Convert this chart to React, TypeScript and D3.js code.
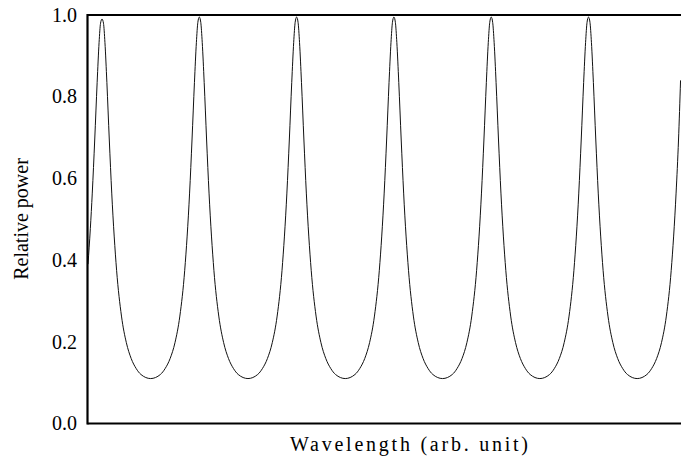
import React from "react";
import * as d3 from "d3";

const wavelength = [
  0.000, 0.024, 0.044, 0.069, 0.094, 0.114, 0.129, 0.144, 0.159, 0.174, 0.194, 0.219, 0.244, 0.294, 0.344, 0.394, 0.444, 0.494, 0.544, 0.644,
  0.744, 0.794, 0.844, 0.894, 0.944, 0.994, 1.044, 1.069, 1.094, 1.114, 1.129, 1.144, 1.159, 1.174, 1.194, 1.219, 1.244, 1.294, 1.344, 1.394, 1.444, 1.494, 1.544, 1.644,
  1.744, 1.794, 1.844, 1.894, 1.944, 1.994, 2.044, 2.069, 2.094, 2.114, 2.129, 2.144, 2.159, 2.174, 2.194, 2.219, 2.244, 2.294, 2.344, 2.394, 2.444, 2.494, 2.544, 2.644,
  2.744, 2.794, 2.844, 2.894, 2.944, 2.994, 3.044, 3.069, 3.094, 3.114, 3.129, 3.144, 3.159, 3.174, 3.194, 3.219, 3.244, 3.294, 3.344, 3.394, 3.444, 3.494, 3.544, 3.644,
  3.744, 3.794, 3.844, 3.894, 3.944, 3.994, 4.044, 4.069, 4.094, 4.114, 4.129, 4.144, 4.159, 4.174, 4.194, 4.219, 4.244, 4.294, 4.344, 4.394, 4.444, 4.494, 4.544, 4.644,
  4.744, 4.794, 4.844, 4.894, 4.944, 4.994, 5.044, 5.069, 5.094, 5.114, 5.129, 5.144, 5.159, 5.174, 5.194, 5.219, 5.244, 5.294, 5.344, 5.394, 5.444, 5.494, 5.544, 5.644,
  5.744, 5.794, 5.844, 5.894, 5.944, 5.994, 6.044, 6.069, 6.090,
];

const relativePower = [
  0.390, 0.477, 0.564, 0.694, 0.835, 0.933, 0.980, 0.990, 0.980, 0.933, 0.835, 0.694, 0.564, 0.375, 0.263, 0.198, 0.159, 0.135, 0.120, 0.110,
  0.120, 0.135, 0.159, 0.198, 0.263, 0.375, 0.564, 0.694, 0.835, 0.933, 0.982, 0.995, 0.982, 0.933, 0.835, 0.694, 0.564, 0.375, 0.263, 0.198, 0.159, 0.135, 0.120, 0.110,
  0.120, 0.135, 0.159, 0.198, 0.263, 0.375, 0.564, 0.694, 0.835, 0.933, 0.982, 0.995, 0.982, 0.933, 0.835, 0.694, 0.564, 0.375, 0.263, 0.198, 0.159, 0.135, 0.120, 0.110,
  0.120, 0.135, 0.159, 0.198, 0.263, 0.375, 0.564, 0.694, 0.835, 0.933, 0.982, 0.995, 0.982, 0.933, 0.835, 0.694, 0.564, 0.375, 0.263, 0.198, 0.159, 0.135, 0.120, 0.110,
  0.120, 0.135, 0.159, 0.198, 0.263, 0.375, 0.564, 0.694, 0.835, 0.933, 0.982, 0.995, 0.982, 0.933, 0.835, 0.694, 0.564, 0.375, 0.263, 0.198, 0.159, 0.135, 0.120, 0.110,
  0.120, 0.135, 0.159, 0.198, 0.263, 0.375, 0.564, 0.694, 0.835, 0.933, 0.982, 0.995, 0.982, 0.933, 0.835, 0.694, 0.564, 0.375, 0.263, 0.198, 0.159, 0.135, 0.120, 0.110,
  0.120, 0.135, 0.159, 0.198, 0.263, 0.375, 0.564, 0.694, 0.840,
];

const yTicks = [0.0, 0.2, 0.4, 0.6, 0.8, 1.0];
const yTickLabels = ["0.0", "0.2", "0.4", "0.6", "0.8", "1.0"];
const xAxisTitle = "Wavelength (arb. unit)";
const yAxisTitle = "Relative power";

const W = 681;
const H = 463;
const FONT = "Liberation Serif, Times New Roman, Times, DejaVu Serif, serif";

export default function App() {
  const left = 87.5;
  const top = 15;
  const bottom = 423.5;
  const x = d3.scaleLinear().domain([0, 6.1]).range([88, 88 + 6.1 * 97.3]);
  const y = d3.scaleLinear().domain([0, 1]).range([bottom, top]);

  const points: [number, number][] = wavelength.map((w, i) => [w, relativePower[i]]);
  const line = d3
    .line<[number, number]>()
    .x((d) => x(d[0]))
    .y((d) => y(d[1]))
    .curve(d3.curveMonotoneX);

  const textStyle = { fontFamily: FONT, fontSize: "20px" };

  return (
    <svg
      width={W}
      height={H}
      style={{ position: "fixed", left: 0, top: 0, background: "#fff", display: "block" }}
    >
      <rect x={0} y={0} width={W} height={H} fill="#fff" />
      <path d={line(points) || ""} fill="none" stroke="#111" strokeWidth={1} />
      <line x1={left} y1={top} x2={W + 5} y2={top} stroke="#000" strokeWidth={2} />
      <line x1={left} y1={bottom} x2={W + 5} y2={bottom} stroke="#000" strokeWidth={2.2} />
      <line x1={left} y1={top - 1} x2={left} y2={bottom + 1} stroke="#000" strokeWidth={2.2} />
      {yTicks.map((t, i) => (
        <text key={t} x={77} y={y(t) + 6.7} textAnchor="end" style={textStyle} fill="#000">
          {yTickLabels[i]}
        </text>
      ))}
      <text
        x={290}
        y={451}
        textLength={238}
        lengthAdjust="spacing"
        style={textStyle}
        fill="#000"
      >
        {xAxisTitle}
      </text>
      <text
        transform={`translate(28,219) rotate(-90)`}
        textAnchor="middle"
        style={textStyle}
        fill="#000"
      >
        {yAxisTitle}
      </text>
    </svg>
  );
}
